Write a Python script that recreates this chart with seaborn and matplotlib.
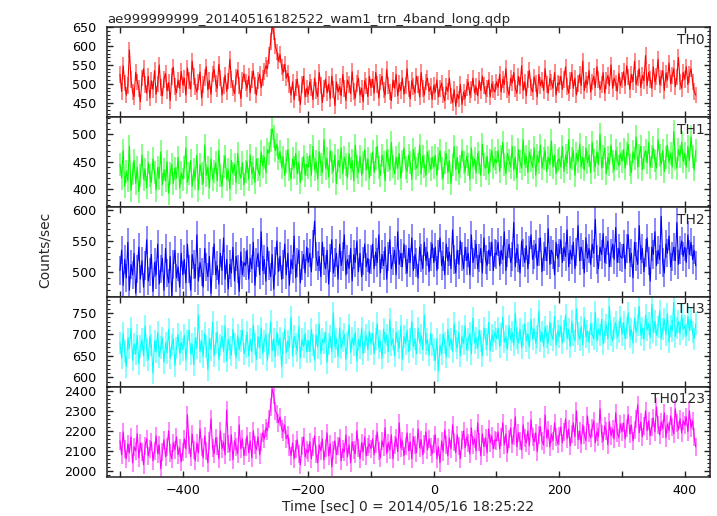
"""
WAM light curve (4 energy bands + sum), qdp-style stacked panels.
"""

import pandas as pd
import matplotlib
matplotlib.use("Agg")
import matplotlib.pyplot as plt
from matplotlib.ticker import MultipleLocator, FuncFormatter
import seaborn as sns

TITLE = "ae999999999_20140516182522_wam1_trn_4band_long.qdp"
XLABEL = "Time [sec] 0 = 2014/05/16 18:25:22"
YLABEL = "Counts/sec"

# bin centres: 2.5 s bins from -500 s (368 bins)
T0, DT, NBIN = -500.0, 2.5, 368

# count rates, one row per 100 s
TH0 = [
    525, 480, 548, 502, 470, 495, 590, 512, 478, 466, 530, 505, 488, 452, 515, 540, 498, 475, 520, 462,
    508, 485, 535, 472, 499, 550, 490, 468, 512, 527, 481, 503, 455, 520, 544, 492, 476, 510, 488, 533,
    497, 515, 470, 542, 508, 486, 560, 520, 493, 478, 505, 531, 462, 498, 517, 545, 484, 509, 472, 526,
    538, 501, 488, 552, 515, 470, 496, 523, 480, 507, 565, 512, 489, 474, 518, 536, 495, 461, 508, 527,
    503, 488, 520, 476, 512, 534, 495, 470, 508, 525, 490, 515, 532, 548, 540, 575, 612, 655, 638, 600,
    585, 560, 578, 545, 530, 552, 515, 528, 498, 470, 505, 458, 490, 512, 476, 445, 498, 520, 465, 488,
    472, 505, 490, 458, 515, 482, 466, 530, 495, 450, 488, 512, 476, 499, 460, 520, 485, 442, 505, 478,
    493, 468, 525, 487, 455, 510, 498, 474, 532, 480, 462, 500, 515, 470, 488, 452, 508, 494, 466, 520,
    490, 512, 475, 530, 498, 462, 505, 520, 484, 470, 538, 495, 478, 455, 510, 488, 525, 468, 500, 482,
    515, 472, 495, 540, 486, 460, 508, 492, 475, 520, 498, 465, 530, 488, 470, 505, 515, 480, 492, 458,
    495, 478, 510, 465, 488, 502, 470, 455, 492, 480, 515, 468, 450, 485, 440, 472, 460, 498, 445, 478,
    462, 490, 505, 470, 485, 515, 476, 492, 468, 508, 482, 520, 495, 472, 488, 510, 465, 500, 485, 478,
    505, 490, 525, 478, 512, 498, 540, 485, 470, 515, 502, 530, 488, 475, 520, 495, 548, 482, 505, 468,
    512, 535, 490, 478, 518, 500, 465, 525, 495, 510, 482, 540, 498, 475, 515, 505, 488, 530, 470, 502,
    498, 520, 485, 512, 545, 492, 475, 508, 530, 488, 515, 470, 500, 525, 495, 560, 482, 510, 498, 535,
    478, 505, 520, 490, 545, 512, 485, 498, 530, 475, 508, 522, 495, 550, 488, 515, 502, 480, 528, 495,
    510, 532, 495, 548, 518, 485, 525, 505, 560, 498, 515, 540, 490, 522, 508, 575, 495, 530, 512, 488,
    545, 505, 520, 565, 498, 515, 535, 482, 528, 510, 555, 500, 522, 540, 492, 518, 570, 505, 488, 530,
    512, 545, 498, 525, 540, 505, 480, 470,
]
TH1 = [
    445, 420, 470, 405, 432, 415, 478, 398, 428, 452, 410, 440, 395, 425, 462, 418, 436, 402, 448, 425,
    412, 455, 430, 398, 440, 420, 468, 408, 435, 415, 450, 392, 428, 445, 410, 438, 420, 458, 402, 430,
    418, 440, 475, 412, 428, 452, 405, 435, 420, 462, 398, 445, 428, 410, 480, 425, 440, 402, 455, 418,
    432, 448, 415, 470, 425, 405, 442, 460, 418, 435, 400, 452, 428, 445, 412, 465, 430, 420, 448, 408,
    432, 450, 418, 462, 428, 440, 412, 455, 435, 425, 468, 442, 458, 430, 472, 465, 488, 510, 495, 470,
    482, 455, 468, 440, 458, 425, 450, 472, 435, 418, 455, 440, 465, 428, 448, 412, 438, 460, 425, 445,
    440, 462, 425, 478, 435, 450, 418, 468, 445, 430, 490, 438, 455, 422, 470, 448, 432, 462, 410, 452,
    440, 475, 428, 458, 445, 420, 465, 438, 452, 415, 480, 442, 430, 460, 425, 448, 472, 435, 455, 420,
    445, 468, 430, 455, 478, 440, 425, 462, 448, 415, 470, 452, 435, 485, 442, 428, 458, 438, 465, 420,
    450, 475, 440, 432, 462, 448, 418, 472, 455, 438, 445, 480, 428, 460, 442, 425, 468, 450, 435, 458,
    440, 462, 425, 455, 470, 438, 420, 448, 465, 430, 452, 410, 445, 478, 435, 458, 428, 442, 470, 448,
    432, 460, 445, 418, 475, 440, 455, 430, 465, 448, 425, 482, 445, 438, 460, 428, 452, 470, 440, 455,
    448, 470, 432, 460, 485, 445, 428, 465, 452, 440, 478, 435, 458, 420, 472, 450, 438, 490, 445, 460,
    430, 468, 452, 440, 475, 425, 462, 448, 480, 438, 455, 470, 432, 458, 445, 488, 440, 462, 428, 452,
    455, 440, 478, 432, 462, 448, 490, 438, 455, 470, 425, 465, 450, 482, 440, 458, 435, 475, 448, 462,
    430, 485, 452, 440, 468, 445, 500, 438, 460, 475, 428, 458, 445, 480, 450, 435, 470, 455, 442, 465,
    450, 472, 438, 465, 482, 445, 430, 468, 455, 495, 440, 462, 478, 435, 458, 470, 448, 485, 440, 460,
    475, 452, 438, 490, 462, 445, 470, 432, 458, 480, 448, 465, 440, 505, 455, 438, 472, 460, 485, 450,
    465, 440, 478, 452, 495, 460, 435, 470,
]
TH2 = [
    502, 535, 478, 520, 490, 548, 470, 512, 495, 530, 465, 505, 540, 488, 518, 475, 510, 552, 485, 500,
    528, 468, 515, 495, 545, 480, 505, 522, 470, 538, 498, 482, 525, 460, 512, 535, 490, 508, 475, 530,
    495, 520, 482, 545, 505, 470, 528, 512, 490, 560, 485, 515, 500, 475, 538, 508, 492, 525, 465, 518,
    545, 495, 510, 480, 530, 502, 555, 488, 520, 472, 512, 498, 540, 485, 525, 505, 468, 532, 495, 515,
    510, 535, 488, 522, 505, 548, 478, 515, 530, 495, 565, 502, 520, 485, 540, 510, 492, 528, 472, 518,
    550, 500, 525, 488, 512, 545, 495, 530, 478, 520, 505, 558, 490, 515, 535, 482, 510, 528, 498, 540,
    515, 530, 500, 545, 582, 525, 510, 525, 492, 548, 518, 505, 535, 480, 522, 552, 498, 515, 530, 488,
    545, 510, 525, 560, 495, 520, 505, 538, 485, 528, 515, 550, 500, 530, 492, 518, 545, 508, 522, 498,
    520, 545, 505, 532, 515, 560, 498, 528, 510, 540, 488, 525, 552, 505, 518, 535, 495, 565, 512, 530,
    508, 545, 520, 498, 538, 515, 555, 502, 528, 515, 490, 540, 522, 505, 548, 518, 532, 500, 525, 545,
    515, 540, 502, 528, 555, 510, 525, 495, 545, 518, 532, 505, 568, 520, 498, 535, 512, 550, 525, 505,
    540, 518, 530, 495, 560, 515, 528, 545, 505, 522, 538, 498, 555, 520, 510, 535, 525, 548, 502, 530,
    528, 548, 510, 535, 520, 565, 502, 530, 545, 515, 525, 580, 508, 538, 522, 498, 550, 530, 515, 542,
    505, 535, 560, 520, 528, 545, 510, 532, 555, 500, 525, 540, 518, 570, 512, 535, 528, 495, 548, 522,
    530, 552, 515, 540, 525, 568, 508, 535, 520, 548, 505, 532, 575, 518, 540, 528, 498, 555, 522, 538,
    512, 545, 530, 585, 520, 505, 540, 528, 562, 515, 535, 550, 508, 530, 545, 520, 572, 515, 538, 525,
    522, 545, 505, 538, 560, 515, 530, 490, 548, 525, 512, 575, 520, 538, 500, 530, 555, 518, 485, 540,
    528, 565, 510, 535, 520, 590, 515, 498, 545, 530, 558, 508, 525, 540, 518, 580, 512, 535, 550, 525,
    540, 515, 560, 528, 548, 520, 535, 510,
]
TH3 = [
    680, 645, 702, 660, 625, 690, 668, 715, 640, 678, 655, 698, 632, 672, 688, 650, 720, 665, 642, 695,
    675, 610, 685, 660, 705, 648, 670, 692, 635, 680, 658, 712, 645, 675, 690, 628, 668, 700, 655, 682,
    665, 698, 640, 685, 710, 655, 678, 630, 692, 668, 745, 660, 685, 648, 702, 672, 618, 690, 665, 728,
    650, 680, 705, 642, 675, 695, 660, 720, 638, 688, 670, 652, 712, 678, 645, 698, 665, 685, 710, 655,
    672, 705, 650, 688, 660, 722, 678, 642, 695, 668, 715, 655, 685, 700, 640, 678, 730, 662, 690, 648,
    705, 675, 692, 625, 680, 712, 658, 685, 670, 740, 650, 695, 678, 662, 718, 645, 688, 672, 702, 660,
    685, 660, 712, 675, 640, 698, 670, 725, 655, 688, 680, 705, 635, 678, 695, 660, 750, 672, 690, 648,
    715, 668, 685, 700, 642, 680, 722, 658, 692, 675, 705, 638, 688, 670, 715, 655, 682, 698, 665, 708,
    678, 702, 655, 690, 725, 668, 685, 645, 712, 680, 698, 660, 735, 675, 690, 650, 705, 685, 668, 720,
    642, 695, 678, 710, 660, 688, 730, 672, 690, 655, 715, 680, 698, 665, 745, 678, 688, 652, 702, 675,
    665, 640, 690, 615, 675, 655, 700, 680, 648, 712, 672, 690, 660, 725, 685, 668, 705, 650, 695, 678,
    720, 665, 688, 702, 655, 738, 680, 692, 668, 710, 685, 650, 715, 690, 675, 728, 662, 698, 685, 705,
    690, 715, 672, 700, 740, 682, 695, 665, 720, 688, 705, 675, 750, 692, 680, 712, 668, 698, 725, 685,
    702, 670, 735, 690, 712, 680, 695, 755, 685, 705, 672, 718, 695, 680, 728, 700, 688, 742, 675, 708,
    695, 720, 680, 708, 745, 690, 712, 672, 730, 698, 685, 760, 702, 688, 718, 675, 738, 695, 708, 682,
    725, 700, 690, 752, 685, 712, 698, 735, 678, 705, 722, 690, 765, 700, 685, 715, 728, 692, 705, 740,
    700, 728, 690, 715, 750, 695, 712, 680, 738, 705, 722, 765, 698, 715, 688, 745, 710, 725, 692, 770,
    705, 730, 698, 718, 755, 690, 712, 735, 700, 748, 682, 720, 708, 775, 695, 715, 730, 702, 745, 712,
    720, 698, 742, 710, 735, 705, 690, 725,
]
TH0123 = [
    2150, 2080, 2195, 2110, 2060, 2135, 2090, 2170, 2040, 2120, 2100, 2185, 2065, 2140, 2095, 2030, 2125, 2160, 2075, 2110,
    2145, 2050, 2100, 2175, 2085, 2130, 2010, 2095, 2155, 2070, 2120, 2200, 2090, 2060, 2140, 2105, 2170, 2080, 2115, 2045,
    2095, 2160, 2110, 2280, 2130, 2070, 2185, 2105, 2050, 2140, 2090, 2210, 2120, 2065, 2175, 2100, 2040, 2150, 2260, 2115,
    2085, 2165, 2125, 2060, 2200, 2110, 2145, 2080, 2305, 2135, 2095, 2180, 2055, 2150, 2120, 2085, 2230, 2110, 2160, 2075,
    2120, 2175, 2090, 2150, 2065, 2200, 2130, 2105, 2170, 2080, 2145, 2190, 2160, 2215, 2200, 2260, 2320, 2410, 2380, 2300,
    2285, 2240, 2270, 2210, 2195, 2230, 2160, 2180, 2120, 2075, 2140, 2060, 2110, 2155, 2085, 2030, 2125, 2170, 2070, 2105,
    2090, 2145, 2060, 2120, 2175, 2085, 2040, 2130, 2100, 2160, 2055, 2115, 2190, 2075, 2135, 2020, 2105, 2150, 2080, 2125,
    2165, 2050, 2110, 2095, 2180, 2070, 2130, 2040, 2145, 2105, 2085, 2200, 2115, 2060, 2140, 2095, 2170, 2075, 2120, 2135,
    2110, 2160, 2080, 2135, 2195, 2100, 2065, 2150, 2120, 2215, 2085, 2140, 2105, 2180, 2060, 2130, 2165, 2095, 2240, 2115,
    2150, 2075, 2125, 2190, 2100, 2145, 2060, 2170, 2130, 2090, 2210, 2115, 2155, 2080, 2135, 2195, 2105, 2160, 2120, 2085,
    2135, 2180, 2060, 2120, 2040, 2150, 2095, 2205, 2130, 2075, 2165, 2110, 2230, 2145, 2090, 2180, 2125, 2060, 2155, 2200,
    2115, 2170, 2140, 2085, 2215, 2130, 2160, 2100, 2240, 2145, 2075, 2185, 2120, 2165, 2090, 2210, 2140, 2175, 2110, 2155,
    2150, 2195, 2110, 2170, 2240, 2130, 2185, 2090, 2160, 2215, 2135, 2175, 2270, 2120, 2190, 2150, 2105, 2230, 2165, 2140,
    2200, 2125, 2255, 2170, 2145, 2190, 2095, 2180, 2220, 2150, 2130, 2280, 2165, 2205, 2120, 2185, 2150, 2240, 2170, 2135,
    2175, 2220, 2140, 2195, 2260, 2160, 2210, 2125, 2185, 2240, 2170, 2300, 2155, 2200, 2135, 2230, 2180, 2150, 2275, 2190,
    2165, 2215, 2250, 2140, 2195, 2170, 2310, 2185, 2150, 2225, 2200, 2130, 2245, 2175, 2210, 2160, 2290, 2190, 2165, 2235,
    2195, 2240, 2160, 2215, 2280, 2185, 2230, 2150, 2205, 2260, 2330, 2190, 2245, 2170, 2225, 2300, 2200, 2250, 2175, 2220,
    2265, 2195, 2320, 2230, 2180, 2245, 2210, 2290, 2165, 2235, 2200, 2275, 2220, 2185, 2310, 2240, 2205, 2260, 2190, 2250,
    2230, 2270, 2195, 2300, 2215, 2250, 2170, 2120,
]

BANDS = ["TH0", "TH1", "TH2", "TH3", "TH0123"]
SERIES = [TH0, TH1, TH2, TH3, TH0123]
ERRS = [22, 21, 23, 26, 46]          # typical 1-sigma error bar per band
YLIMS = [(411, 650), (367, 531), (459, 605), (578, 787), (1970, 2420)]
YMAJOR = [50, 50, 50, 50, 100]
YMINOR = [10, 10, 10, 10, 20]
COLORS = ["#ff0000", "#00ff00", "#0000ff", "#00ffff", "#ff00ff"]

TIME = [T0 + DT * i for i in range(NBIN)]

sns.set_style("ticks")
plt.rcParams["font.family"] = ["DejaVu Sans"]
plt.rcParams["axes.linewidth"] = 1.1
plt.rcParams["axes.edgecolor"] = "#222222"

fig, axes = plt.subplots(5, 1, figsize=(7.17, 5.16), dpi=100, sharex=True)
fig.subplots_adjust(left=0.149, right=0.990, top=0.947, bottom=0.076, hspace=0)


def xfmt(v, pos):
    if int(round(v)) % 200 != 0:
        return ""
    return f"{int(round(v))}".replace("-", "\u2212")


for ax, band, vals, err, ylim, ymaj, ymin, color in zip(
        axes, BANDS, SERIES, ERRS, YLIMS, YMAJOR, YMINOR, COLORS):
    df = pd.DataFrame({"time": TIME, "rate": vals})
    ax.errorbar(df["time"], df["rate"], yerr=err, fmt="none",
                ecolor=color, alpha=0.5, elinewidth=1.3, capsize=0)
    sns.lineplot(data=df, x="time", y="rate", ax=ax, color=color,
                 linewidth=0.8, estimator=None)
    ax.set_ylim(*ylim)
    ax.set_xlim(-521, 440)
    ax.set_xlabel("")
    ax.set_ylabel("")
    ax.yaxis.set_major_locator(MultipleLocator(ymaj))
    ax.yaxis.set_minor_locator(MultipleLocator(ymin))
    ax.xaxis.set_major_locator(MultipleLocator(100))
    ax.xaxis.set_major_formatter(FuncFormatter(xfmt))
    ax.tick_params(which="both", direction="in", top=True, right=True,
                   colors="#222222", labelcolor="black", labelsize=9.2)
    ax.tick_params(which="major", length=4.5, width=1.0)
    ax.tick_params(which="minor", length=2.5, width=0.8)
    ax.tick_params(axis="y", which="major", pad=7.5)
    ax.tick_params(axis="x", which="major", pad=5)
    ax.text(0.992, 0.94, band, transform=ax.transAxes, ha="right", va="top",
            fontsize=10)

axes[0].set_title(TITLE, loc="left", fontsize=9.5, pad=3, x=0.0)
axes[-1].set_xlabel(XLABEL, fontsize=10, labelpad=2)
fig.text(0.062, 0.515, YLABEL, rotation=90, ha="center", va="center", fontsize=10)

fig.savefig("out.png", dpi=100)
